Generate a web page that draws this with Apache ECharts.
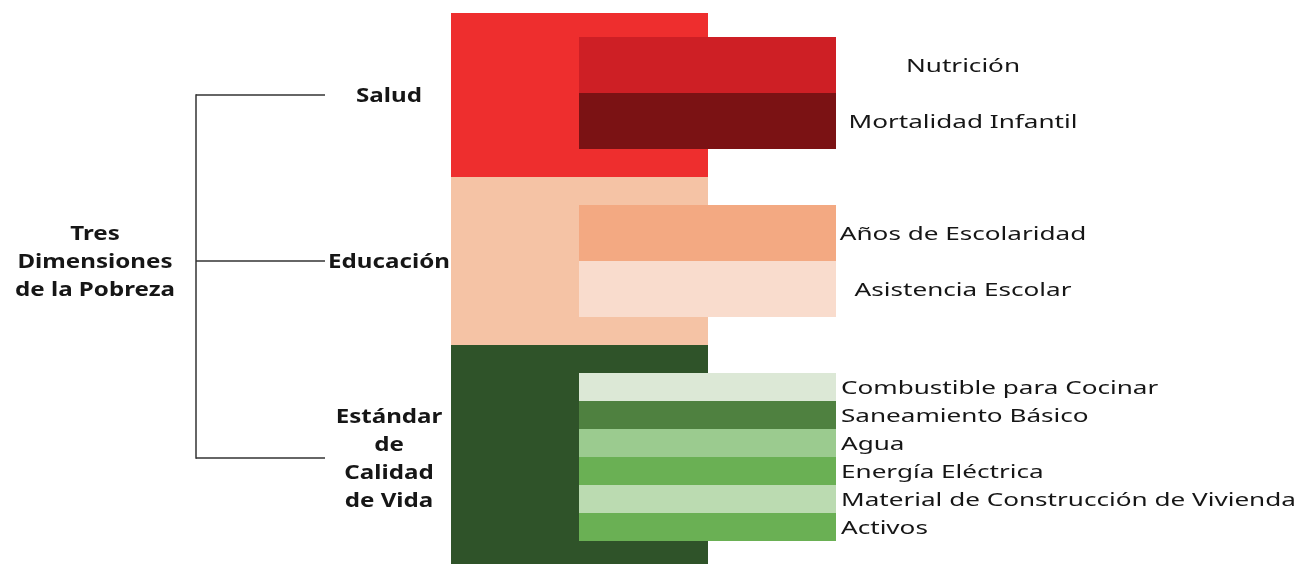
<!DOCTYPE html>
<html>
<head>
<meta charset="utf-8">
<script src="https://cdn.jsdelivr.net/npm/echarts@6/dist/echarts.min.js"></script>
<style>
  html, body { margin: 0; padding: 0; background: #fff; }
  #chart { width: 1305px; height: 564px; }
</style>
</head>
<body>
<div id="chart"></div>
<script>
// dimensiones (bloques grandes) y su extensión vertical
const rootLabel = 'Tres\nDimensiones\nde la Pobreza'
const dimensions = ['Salud', 'Educación', 'Estándar\nde\nCalidad\nde Vida']
const dimStart = [13, 177, 345]
const dimEnd = [177, 345, 571]

// indicadores
const indicators = [
  'Nutrición', 'Mortalidad Infantil',
  'Años de Escolaridad', 'Asistencia Escolar',
  'Combustible para Cocinar', 'Saneamiento Básico', 'Agua',
  'Energía Eléctrica', 'Material de Construcción de Vivienda', 'Activos'
]
const indGroup = [0, 0, 1, 1, 2, 2, 2, 2, 2, 2]
const indStart = [37, 93, 205, 261, 373, 401, 429, 457, 485, 513]
const indEnd = [93, 149, 261, 317, 401, 429, 457, 485, 513, 541]

// estilos / layout
const dimColors = ['#ee2e2e', '#f5c3a5', '#2f5329']
const indColors = ['#ce1f25', '#7b1214', '#f3a982', '#f9dccd', '#dce8d6',
  '#4f8140', '#9bcb8f', '#6ab054', '#bbdbb1', '#6ab054']
const FONT = "'Noto Sans', sans-serif"
const TXT = '#161616'
const SX_BOLD = 1.27
const SX_REG = 1.45
const DY = 2
const col = { rootX: 95, treeX: 196, treeEnd: 325, dimLabelX: 389, blockL: 451, blockR: 708, indL: 579, indR: 836, centerLab: 963, leftLab: 841 }

const chart = echarts.init(document.getElementById('chart'))

const dimData = dimensions.map((d, i) => [dimStart[i], dimEnd[i], i])
const indData = indicators.map((d, i) => [indStart[i], indEnd[i], i])
const centers = dimensions.map((d, i) => (dimStart[i] + dimEnd[i]) / 2)

chart.setOption({
  animation: false,
  grid: { left: 0, right: 0, top: 0, bottom: 0 },
  xAxis: { type: 'value', min: 0, max: 1305, show: false },
  yAxis: { type: 'value', min: 0, max: 564, inverse: true, show: false },
  series: [
    {
      type: 'custom',
      data: dimData,
      renderItem: (params, api) => {
        const i = api.value(2)
        const p0 = api.coord([col.blockL, api.value(0)])
        const p1 = api.coord([col.blockR, api.value(1)])
        const cy = api.coord([0, (api.value(0) + api.value(1)) / 2])[1]
        const t0 = api.coord([col.treeX, 0])[0]
        const t1 = api.coord([col.treeEnd, 0])[0]
        const lx = api.coord([col.dimLabelX, 0])[0]
        return {
          type: 'group',
          children: [
            { type: 'rect', shape: { x: p0[0], y: p0[1], width: p1[0] - p0[0], height: p1[1] - p0[1] }, style: { fill: dimColors[i] } },
            { type: 'line', shape: { x1: t0, y1: cy, x2: t1, y2: cy }, style: { stroke: '#333', lineWidth: 1.5 } },
            {
              type: 'text', x: lx, y: cy + DY, scaleX: SX_BOLD, z2: 10,
              style: { text: dimensions[i], font: `bold 19px ${FONT}`, fill: TXT, align: 'center', verticalAlign: 'middle', lineHeight: 28 }
            }
          ]
        }
      }
    },
    {
      type: 'custom',
      data: indData,
      z: 3,
      renderItem: (params, api) => {
        const i = api.value(2)
        const p0 = api.coord([col.indL, api.value(0)])
        const p1 = api.coord([col.indR, api.value(1)])
        const cy = (p0[1] + p1[1]) / 2
        const centered = indGroup[i] < 2
        const lx = api.coord([centered ? col.centerLab : col.leftLab, 0])[0]
        return {
          type: 'group',
          children: [
            { type: 'rect', shape: { x: p0[0], y: p0[1], width: p1[0] - p0[0], height: p1[1] - p0[1] }, style: { fill: indColors[i] } },
            {
              type: 'text', x: lx, y: cy + DY, scaleX: SX_REG,
              style: { text: indicators[i], font: `18px ${FONT}`, fill: TXT, align: centered ? 'center' : 'left', verticalAlign: 'middle' }
            }
          ]
        }
      }
    },
    {
      type: 'custom',
      data: [[centers[0], centers[centers.length - 1]]],
      renderItem: (params, api) => {
        const x = api.coord([col.treeX, 0])[0]
        const y0 = api.coord([0, api.value(0)])[1]
        const y1 = api.coord([0, api.value(1)])[1]
        const rx = api.coord([col.rootX, 0])[0]
        const ry = api.coord([0, centers[1]])[1]
        return {
          type: 'group',
          children: [
            { type: 'line', shape: { x1: x, y1: y0 - 0.75, x2: x, y2: y1 + 0.75 }, style: { stroke: '#333', lineWidth: 1.5 } },
            {
              type: 'text', x: rx, y: ry + DY, scaleX: SX_BOLD,
              style: { text: rootLabel, font: `bold 19px ${FONT}`, fill: TXT, align: 'center', verticalAlign: 'middle', lineHeight: 28 }
            }
          ]
        }
      }
    }
  ]
})
</script>
</body>
</html>
